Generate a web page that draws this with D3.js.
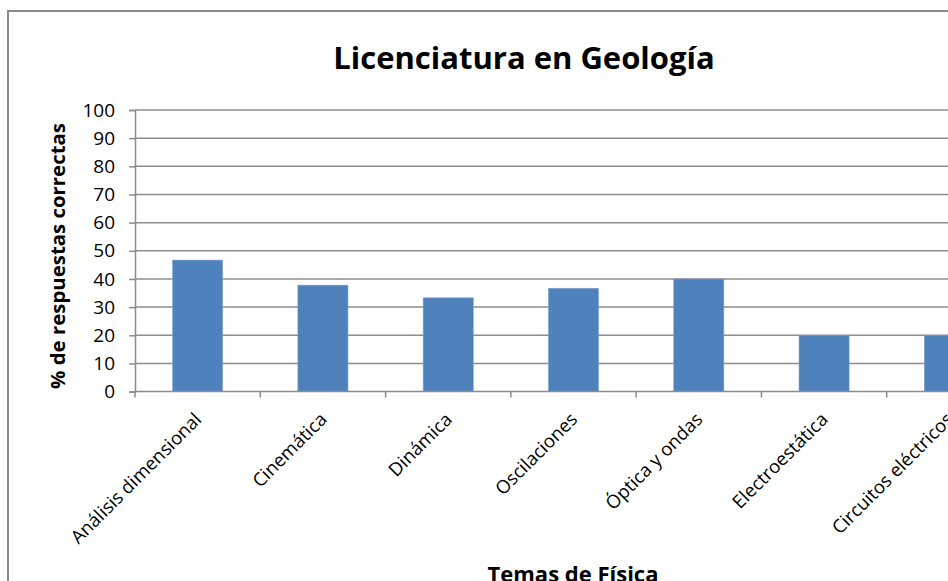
<!DOCTYPE html>
<html>
<head>
<meta charset="utf-8">
<script src="https://cdn.jsdelivr.net/npm/d3@7"></script>
<style>
  body { margin: 0; background: #fff; overflow: hidden; }
  svg { display: block; font-family: "Open Sans", sans-serif; }
</style>
</head>
<body>
<div id="chart"></div>
<script>
// chart data
var temas = ["Análisis dimensional", "Cinemática", "Dinámica", "Oscilaciones",
             "Óptica y ondas", "Electroestática", "Circuitos eléctricos"];
var porcentajes = [46.7, 37.8, 33.3, 36.7, 40, 20, 20];
var yTicks = [0, 10, 20, 30, 40, 50, 60, 70, 80, 90, 100];

var titulo = "Licenciatura en Geología";
var tituloY = "% de respuestas correctas";
var tituloX = "Temas de Física";

var width = 948, height = 581;
// plot area (runs past the right edge like the original crop)
var plot = { left: 135, top: 110, right: 1012, bottom: 391.6 };

var svg = d3.select("#chart").append("svg")
    .attr("width", width)
    .attr("height", height);

// outer chart frame
svg.append("rect")
    .attr("x", 8).attr("y", 11)
    .attr("width", 1040).attr("height", 640)
    .attr("fill", "#fff")
    .attr("stroke", "#898989")
    .attr("stroke-width", 2);

var x = d3.scaleBand()
    .domain(temas)
    .range([plot.left, plot.right])
    .paddingInner(0.6)
    .paddingOuter(0.3);

var y = d3.scaleLinear()
    .domain([0, 100])
    .range([plot.bottom, plot.top]);

// gridlines
svg.append("g")
    .selectAll("line")
    .data(yTicks.filter(function(d) { return d > 0; }))
    .enter().append("line")
    .attr("x1", plot.left).attr("x2", plot.right)
    .attr("y1", function(d) { return y(d); })
    .attr("y2", function(d) { return y(d); })
    .attr("stroke", "#8c8c8c")
    .attr("stroke-width", 1.5);

// bars
svg.append("g")
    .selectAll("rect")
    .data(porcentajes)
    .enter().append("rect")
    .attr("x", function(d, i) { return x(temas[i]); })
    .attr("y", function(d) { return y(d); })
    .attr("width", x.bandwidth())
    .attr("height", function(d) { return y(0) - y(d); })
    .attr("fill", "#4f81bd")
    .attr("stroke", "#7fa3cf")
    .attr("stroke-width", 0.6);

// y axis
var yAxis = svg.append("g")
    .attr("transform", "translate(" + plot.left + ",0)")
    .call(d3.axisLeft(y).tickValues(yTicks).tickSize(6).tickPadding(14));
yAxis.select(".domain").attr("stroke", "#8c8c8c").attr("stroke-width", 1.5);
yAxis.selectAll(".tick line").attr("stroke", "#8c8c8c").attr("stroke-width", 1.5);
yAxis.selectAll(".tick text")
    .attr("font-family", "Open Sans, sans-serif")
    .attr("font-size", 19)
    .attr("fill", "#000");

// x axis: ticks between categories
var step = x.step();
var xBounds = d3.range(temas.length + 1).map(function(i) { return plot.left + i * step; });
svg.append("line")
    .attr("x1", plot.left).attr("x2", plot.right)
    .attr("y1", y(0)).attr("y2", y(0))
    .attr("stroke", "#8c8c8c").attr("stroke-width", 1.5);
svg.append("g")
    .selectAll("line")
    .data(xBounds)
    .enter().append("line")
    .attr("x1", function(d) { return d; }).attr("x2", function(d) { return d; })
    .attr("y1", y(0)).attr("y2", y(0) + 6)
    .attr("stroke", "#8c8c8c").attr("stroke-width", 1.5);

// rotated category labels
svg.append("g")
    .selectAll("text")
    .data(temas)
    .enter().append("text")
    .attr("transform", function(d) {
        var cx = x(d) + x.bandwidth() / 2;
        return "translate(" + (cx + 5) + "," + (y(0) + 29) + ") rotate(-45)";
    })
    .attr("text-anchor", "end")
    .attr("font-size", 18.5)
    .attr("fill", "#000")
    .text(function(d) { return d; });

// titles
svg.append("text")
    .attr("x", 524).attr("y", 69)
    .attr("text-anchor", "middle")
    .attr("font-size", 31)
    .attr("font-weight", "bold")
    .text(titulo);

svg.append("text")
    .attr("transform", "translate(65," + 256 + ") rotate(-90)")
    .attr("text-anchor", "middle")
    .attr("font-size", 20.4)
    .attr("font-weight", "bold")
    .text(tituloY);

svg.append("text")
    .attr("x", 573).attr("y", 582)
    .attr("text-anchor", "middle")
    .attr("font-size", 22)
    .attr("font-weight", "bold")
    .text(tituloX);
</script>
</body>
</html>
